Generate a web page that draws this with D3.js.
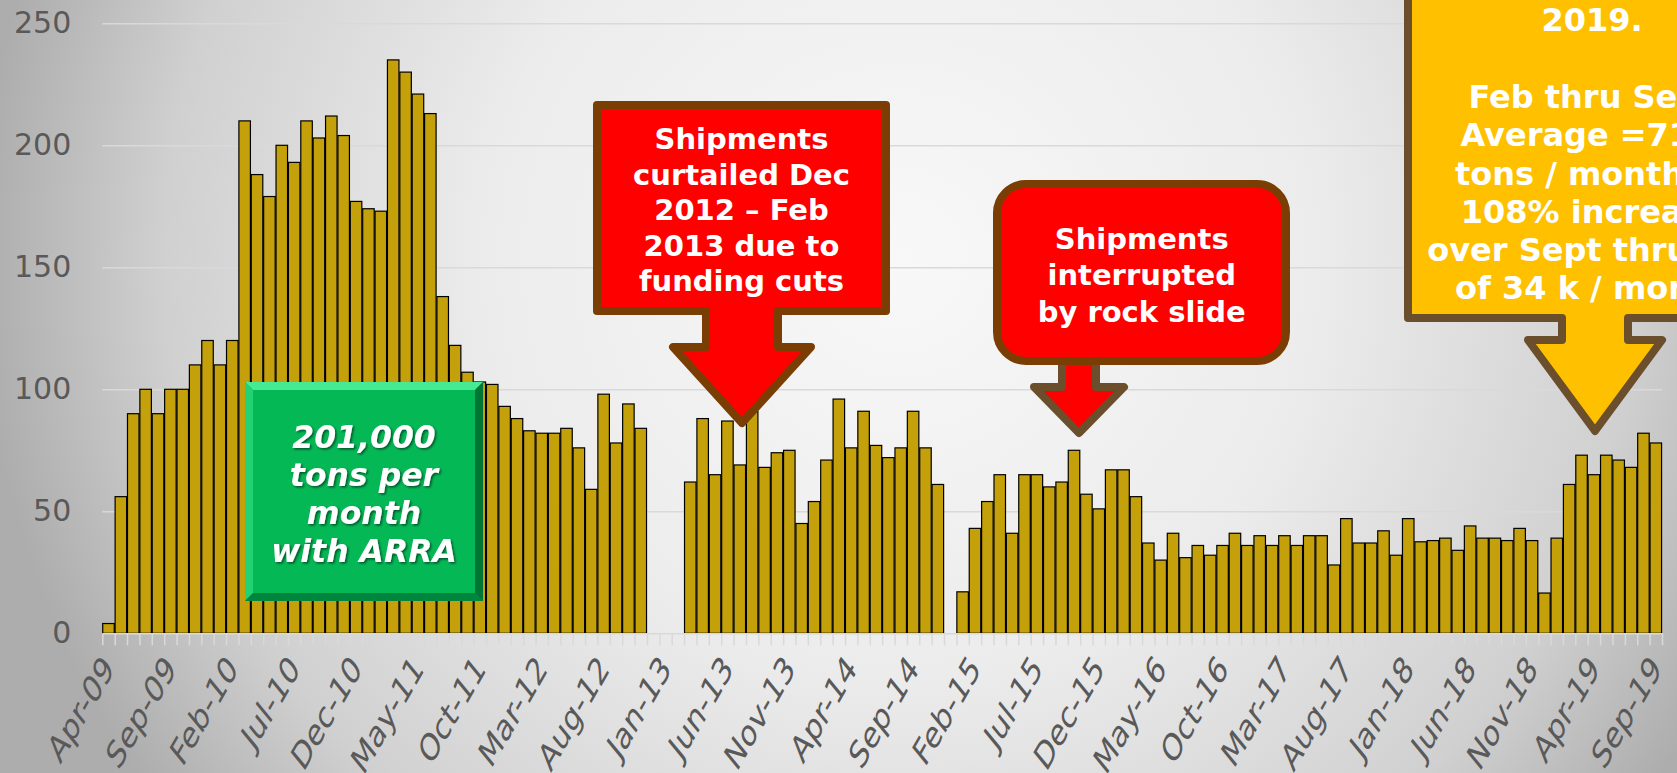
<!DOCTYPE html>
<html><head><meta charset="utf-8">
<script src="https://cdn.jsdelivr.net/npm/d3@7"></script>
<style>html,body{margin:0;padding:0;overflow:hidden;background:#fff}</style>
</head><body>
<svg id="c" width="1677" height="773"></svg>
<script>
const months = [
"Apr-09","May-09","Jun-09","Jul-09","Aug-09","Sep-09","Oct-09","Nov-09","Dec-09",
"Jan-10","Feb-10","Mar-10","Apr-10","May-10","Jun-10","Jul-10","Aug-10","Sep-10","Oct-10","Nov-10","Dec-10",
"Jan-11","Feb-11","Mar-11","Apr-11","May-11","Jun-11","Jul-11","Aug-11","Sep-11","Oct-11","Nov-11","Dec-11",
"Jan-12","Feb-12","Mar-12","Apr-12","May-12","Jun-12","Jul-12","Aug-12","Sep-12","Oct-12","Nov-12","Dec-12",
"Jan-13","Feb-13","Mar-13","Apr-13","May-13","Jun-13","Jul-13","Aug-13","Sep-13","Oct-13","Nov-13","Dec-13",
"Jan-14","Feb-14","Mar-14","Apr-14","May-14","Jun-14","Jul-14","Aug-14","Sep-14","Oct-14","Nov-14","Dec-14",
"Jan-15","Feb-15","Mar-15","Apr-15","May-15","Jun-15","Jul-15","Aug-15","Sep-15","Oct-15","Nov-15","Dec-15",
"Jan-16","Feb-16","Mar-16","Apr-16","May-16","Jun-16","Jul-16","Aug-16","Sep-16","Oct-16","Nov-16","Dec-16",
"Jan-17","Feb-17","Mar-17","Apr-17","May-17","Jun-17","Jul-17","Aug-17","Sep-17","Oct-17","Nov-17","Dec-17",
"Jan-18","Feb-18","Mar-18","Apr-18","May-18","Jun-18","Jul-18","Aug-18","Sep-18","Oct-18","Nov-18","Dec-18",
"Jan-19","Feb-19","Mar-19","Apr-19","May-19","Jun-19","Jul-19","Aug-19","Sep-19"];

// thousand tons shipped per month (null = no shipments)
const tons = [
4,56,90,100,90,100,100,110,120,
110,120,210,188,179,200,193,210,203,212,204,177,
174,173,235,230,221,213,138,118,107,103,102,93,
88,83,82,82,84,76,59,98,78,94,84,null,
null,null,62,88,65,87,69,91,68,74,75,45,
54,71,96,76,91,77,72,76,91,76,61,null,
17,43,54,65,41,65,65,60,62,75,57,51,
67,67,56,37,30,41,31,36,32,36,41,36,
40,36,40,36,40,40,28,47,37,37,42,32,
47,37.5,38,39,34,44,39,39,38,43,38,16.5,
39,61,73,65,73,71,68,82,78];

const tickLabels = ["Apr-09","Sep-09","Feb-10","Jul-10","Dec-10","May-11","Oct-11","Mar-12","Aug-12",
"Jan-13","Jun-13","Nov-13","Apr-14","Sep-14","Feb-15","Jul-15","Dec-15","May-16","Oct-16","Mar-17",
"Aug-17","Jan-18","Jun-18","Nov-18","Apr-19","Sep-19"];
const yTicks = [0,50,100,150,200,250];

const noteGreen = ["201,000","tons per","month","with ARRA"];
const noteCuts = ["Shipments","curtailed Dec","2012 \u2013 Feb","2013 due to","funding cuts"];
const noteSlide = ["Shipments","interrupted","by rock slide"];
const noteUp = ["Shipments surging in","2019.","","Feb thru Sept","Average =71 k","tons / month, a","108% increase","over Sept thru Jan","of 34 k / month"];

const W = 1677, H = 773;
const X0 = 102.3, X1 = 1662, Y0 = 633.3, Ytop = 23.3;
const svg = d3.select("#c");
const defs = svg.append("defs");
const bg = defs.append("radialGradient").attr("id","bg").attr("gradientUnits","userSpaceOnUse")
  .attr("cx",900).attr("cy",260).attr("r",920);
[[0,"#f8f8f8"],[0.45,"#ececec"],[0.8,"#d0d0d0"],[1,"#adadad"]].forEach(([o,c])=>bg.append("stop").attr("offset",o).attr("stop-color",c));
const sh = defs.append("filter").attr("id","tsh").attr("x","-20%").attr("y","-20%").attr("width","140%").attr("height","140%");
sh.append("feDropShadow").attr("dx",1.5).attr("dy",1.5).attr("stdDeviation",1).attr("flood-color","#000").attr("flood-opacity",0.55);

svg.append("rect").attr("width",W).attr("height",H).attr("fill","url(#bg)");

const x = d3.scaleBand().domain(months).range([X0,X1]).paddingInner(0.07).paddingOuter(0.035);
const xi = d3.scaleLinear().domain([0,months.length]).range([X0,X1]);
const y = d3.scaleLinear().domain([0,250]).range([Y0,Ytop]);

// gridlines
svg.append("g").attr("transform",`translate(${X0},0)`)
  .call(d3.axisLeft(y).tickValues(yTicks.slice(1)).tickSize(-(X1-X0)).tickSizeOuter(0).tickFormat(""))
  .call(g=>g.select(".domain").remove())
  .selectAll("line").attr("stroke","#d9d9d9").attr("stroke-width",1.5);

// bars
svg.append("g").selectAll("rect")
  .data(months.map((m,i)=>({m, v:tons[i]})).filter(d=>d.v!=null))
  .join("rect")
  .attr("x",d=>x(d.m)).attr("y",d=>y(d.v))
  .attr("width",x.bandwidth()).attr("height",d=>y(0)-y(d.v))
  .attr("fill","#c4a00a").attr("stroke","#000").attr("stroke-width",1.2);

// x axis line + ticks at band boundaries
svg.append("g").attr("transform",`translate(0,${Y0})`)
  .call(d3.axisBottom(xi).tickValues(d3.range(months.length+1)).tickSize(12).tickSizeOuter(0).tickFormat(""))
  .call(g=>{g.select(".domain").attr("stroke","#d9d9d9").attr("stroke-width",1.5);
           g.selectAll("line").attr("stroke","#d9d9d9").attr("stroke-width",1.5);});

// x labels (rotated, stretched vertically as in the source picture)
svg.append("g").attr("transform",`translate(0,${Y0})`)
  .call(d3.axisBottom(x).tickValues(tickLabels).tickSize(0).tickPadding(0))
  .call(g=>{g.select(".domain").remove(); g.selectAll("line").remove();})
  .selectAll("text")
  .attr("y",0).attr("dy","0.35em")
  .attr("transform","translate(0,28) scale(1,1.45) rotate(-50)")
  .attr("text-anchor","end").attr("fill","#595959")
  .style("font-family","'DejaVu Sans'").style("font-size","26px");

// y labels
svg.append("g").attr("transform",`translate(${X0},0)`)
  .call(d3.axisLeft(y).tickValues(yTicks).tickSize(0).tickPadding(31))
  .call(g=>g.select(".domain").remove())
  .selectAll("text").attr("fill","#595959")
  .style("font-family","'DejaVu Sans'").style("font-size","30px");

// green bevelled box
(function(){
  const bx=245, by=382, bw=238, bh=219, b=8;
  const g = svg.append("g");
  g.append("rect").attr("x",bx).attr("y",by).attr("width",bw).attr("height",bh).attr("fill","#00a84f");
  const P = (pts,c)=>g.append("polygon").attr("points",pts.map(p=>p.join(",")).join(" ")).attr("fill",c);
  P([[bx,by],[bx+bw,by],[bx+bw-b,by+b],[bx+b,by+b]],"#45ea92");
  P([[bx,by],[bx+b,by+b],[bx+b,by+bh-b],[bx,by+bh]],"#22d273");
  P([[bx,by+bh],[bx+b,by+bh-b],[bx+bw-b,by+bh-b],[bx+bw,by+bh]],"#00853f");
  P([[bx+bw,by],[bx+bw,by+bh],[bx+bw-b,by+bh-b],[bx+bw-b,by+b]],"#007636");
  g.append("rect").attr("x",bx+b).attr("y",by+b).attr("width",bw-2*b).attr("height",bh-2*b).attr("fill","#05b856");
  const t = g.append("text").attr("text-anchor","middle").attr("fill","#fff")
    .style("font-family","'DejaVu Sans'").style("font-weight","bold").style("font-style","italic")
    .style("font-size","31.5px").attr("filter","url(#tsh)");
  noteGreen.forEach((s,i)=>t.append("tspan").attr("x",bx+bw/2).attr("y",447.5+i*38.2).text(s));
})();

function lines(parent, arr, cx, y0, dy, size){
  const t = parent.append("text").attr("text-anchor","middle").attr("fill","#fff")
    .style("font-family","'DejaVu Sans'").style("font-weight","bold").style("font-size",size+"px");
  arr.forEach((s,i)=>{ if(s) t.append("tspan").attr("x",cx).attr("y",y0+i*dy).text(s); });
}

// callout 1: funding cuts
(function(){
  const g = svg.append("g");
  g.append("path")
   .attr("d","M597,105 H886 V311 H778 V347 H811 L742,423 L673,347 H706 V311 H597 Z")
   .attr("fill","#ff0000").attr("stroke","#7a3e04").attr("stroke-width",8).attr("stroke-linejoin","round");
  lines(g, noteCuts, 741.5, 149, 35.5, 29);
})();

// callout 2: rock slide
(function(){
  const g = svg.append("g");
  g.append("path")
   .attr("d","M1062,340 V387 H1034 L1079,433 L1124,387 H1096 V340 Z")
   .attr("fill","#ff0000").attr("stroke","#6b4e2b").attr("stroke-width",8).attr("stroke-linejoin","round");
  g.append("rect").attr("x",997).attr("y",184).attr("width",289).attr("height",177).attr("rx",29)
   .attr("fill","#ff0000").attr("stroke","#7a3e04").attr("stroke-width",8);
  lines(g, noteSlide, 1141.7, 249, 36.3, 29);
})();

// callout 3: 2019 increase (clipped by page edge)
(function(){
  const g = svg.append("g");
  g.append("path")
   .attr("d","M1408,-60 V318 H1562 V340 H1528 L1595,431 L1662,340 H1628 V318 H1800 V-60 Z")
   .attr("fill","#ffc000").attr("stroke","#6b4e2b").attr("stroke-width",8).attr("stroke-linejoin","round");
  lines(g, noteUp, 1592, -7, 38.3, 32);
})();
</script>
</body></html>
